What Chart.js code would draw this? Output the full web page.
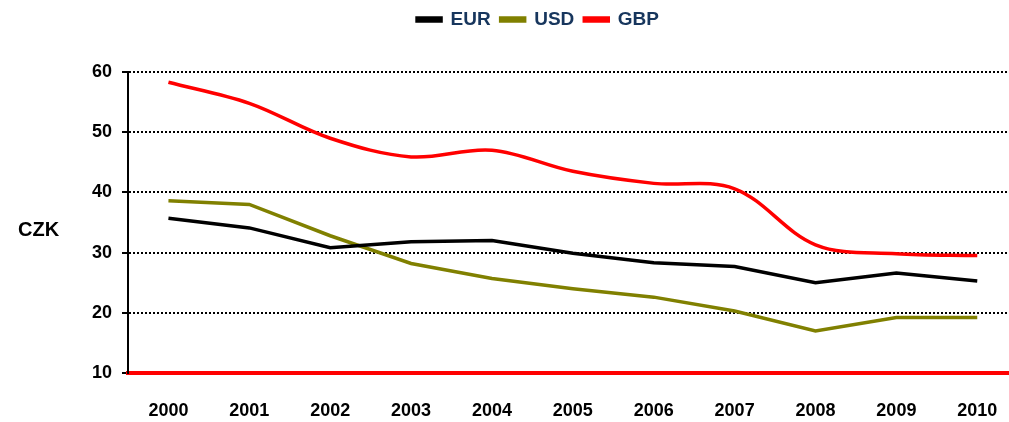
<!DOCTYPE html>
<html>
<head>
<meta charset="utf-8">
<script src="https://cdn.jsdelivr.net/npm/chart.js@4.4.0/dist/chart.umd.min.js"></script>
<style>
  html, body { margin: 0; padding: 0; background: #fff; }
  #wrap { position: relative; width: 1009px; height: 422px; }
</style>
</head>
<body>
<div id="wrap"><canvas id="fxChart" width="1009" height="422"></canvas></div>
<script>
// Kurzy CZK vůči EUR / USD / GBP (roční průměry)
const years = [2000, 2001, 2002, 2003, 2004, 2005, 2006, 2007, 2008, 2009, 2010];
const eur = [35.7, 34.1, 30.8, 31.8, 32.0, 29.9, 28.3, 27.7, 25.0, 26.6, 25.3];
const usd = [38.6, 38.0, 32.8, 28.2, 25.7, 24.0, 22.6, 20.3, 17.0, 19.2, 19.2];
const gbp = [58.3, 54.8, 49.0, 45.9, 47.0, 43.5, 41.5, 40.6, 31.3, 29.8, 29.5];
const yTicks = [10, 20, 30, 40, 50, 60];

Chart.defaults.font.family = '"Liberation Sans", Arial, sans-serif';
Chart.defaults.font.weight = 'bold';
Chart.defaults.color = '#000';

function toPoints(values) {
    return years.map((y, i) => ({ x: y, y: values[i] }));
}

// legenda: pevná výška nad grafem a posun doprava
const legendTweak = {
    id: 'legendTweak',
    beforeInit(chart) {
        const fit = chart.legend.fit;
        chart.legend.fit = function () {
            fit.bind(chart.legend)();
            this.height = 72;
        };
    },
    afterLayout(chart) {
        chart.legend.left += 68;
    }
};

// popisek osy "CZK" vodorovně vlevo
const czkLabel = {
    id: 'czkLabel',
    afterDraw(chart) {
        const ctx = chart.ctx;
        ctx.save();
        ctx.font = 'bold 20px "Liberation Sans", Arial, sans-serif';
        ctx.fillStyle = '#000';
        ctx.textBaseline = 'middle';
        ctx.textAlign = 'left';
        ctx.fillText('CZK', 18, 230);
        ctx.restore();
    }
};

const ctx = document.getElementById('fxChart');

new Chart(ctx, {
    type: 'line',
    data: {
        datasets: [
            {
                label: 'EUR',
                data: toPoints(eur),
                borderColor: '#000000',
                backgroundColor: '#000000',
                borderWidth: 3.5,
                tension: 0,
                pointRadius: 0
            },
            {
                label: 'USD',
                data: toPoints(usd),
                borderColor: '#808000',
                backgroundColor: '#808000',
                borderWidth: 3.5,
                tension: 0,
                pointRadius: 0
            },
            {
                label: 'GBP',
                data: toPoints(gbp),
                borderColor: '#ff0000',
                backgroundColor: '#ff0000',
                borderWidth: 3.5,
                tension: 0.35,
                pointRadius: 0
            }
        ]
    },
    options: {
        responsive: false,
        animation: false,
        devicePixelRatio: 1,
        layout: { padding: { left: 0, right: 1, top: 0, bottom: 0 } },
        plugins: {
            legend: {
                display: true,
                position: 'top',
                labels: {
                    boxWidth: 24,
                    boxHeight: 3,
                    padding: 10,
                    color: '#17365d',
                    font: { size: 19, weight: 'bold' }
                }
            },
            tooltip: { enabled: false }
        },
        scales: {
            x: {
                type: 'linear',
                min: 1999.5,
                max: 2010.38,
                afterBuildTicks(scale) {
                    scale.ticks = years.map(v => ({ value: v }));
                },
                afterFit(scale) {
                    scale.height = 49;
                    scale.paddingLeft = 0;
                    scale.paddingRight = 0;
                },
                grid: { display: false, drawTicks: false },
                border: { display: true, color: '#ff0000', width: 4 },
                ticks: {
                    padding: 27,
                    maxRotation: 0,
                    autoSkip: false,
                    font: { size: 18, weight: 'bold' },
                    callback: v => String(v)
                }
            },
            y: {
                min: 10,
                max: 60,
                afterBuildTicks(scale) {
                    scale.ticks = yTicks.map(v => ({ value: v }));
                },
                afterFit(scale) {
                    scale.width = 128;
                },
                grid: {
                    color: c => (c.tick && c.tick.value === 10) ? 'rgba(0,0,0,0)' : '#000',
                    lineWidth: 2,
                    tickColor: '#000',
                    tickLength: 6,
                    tickWidth: 2
                },
                border: { display: true, color: '#000', width: 2, dash: [2, 2] },
                ticks: {
                    padding: 10,
                    font: { size: 18, weight: 'bold' }
                }
            }
        }
    },
    plugins: [legendTweak, czkLabel]
});
</script>
</body>
</html>
